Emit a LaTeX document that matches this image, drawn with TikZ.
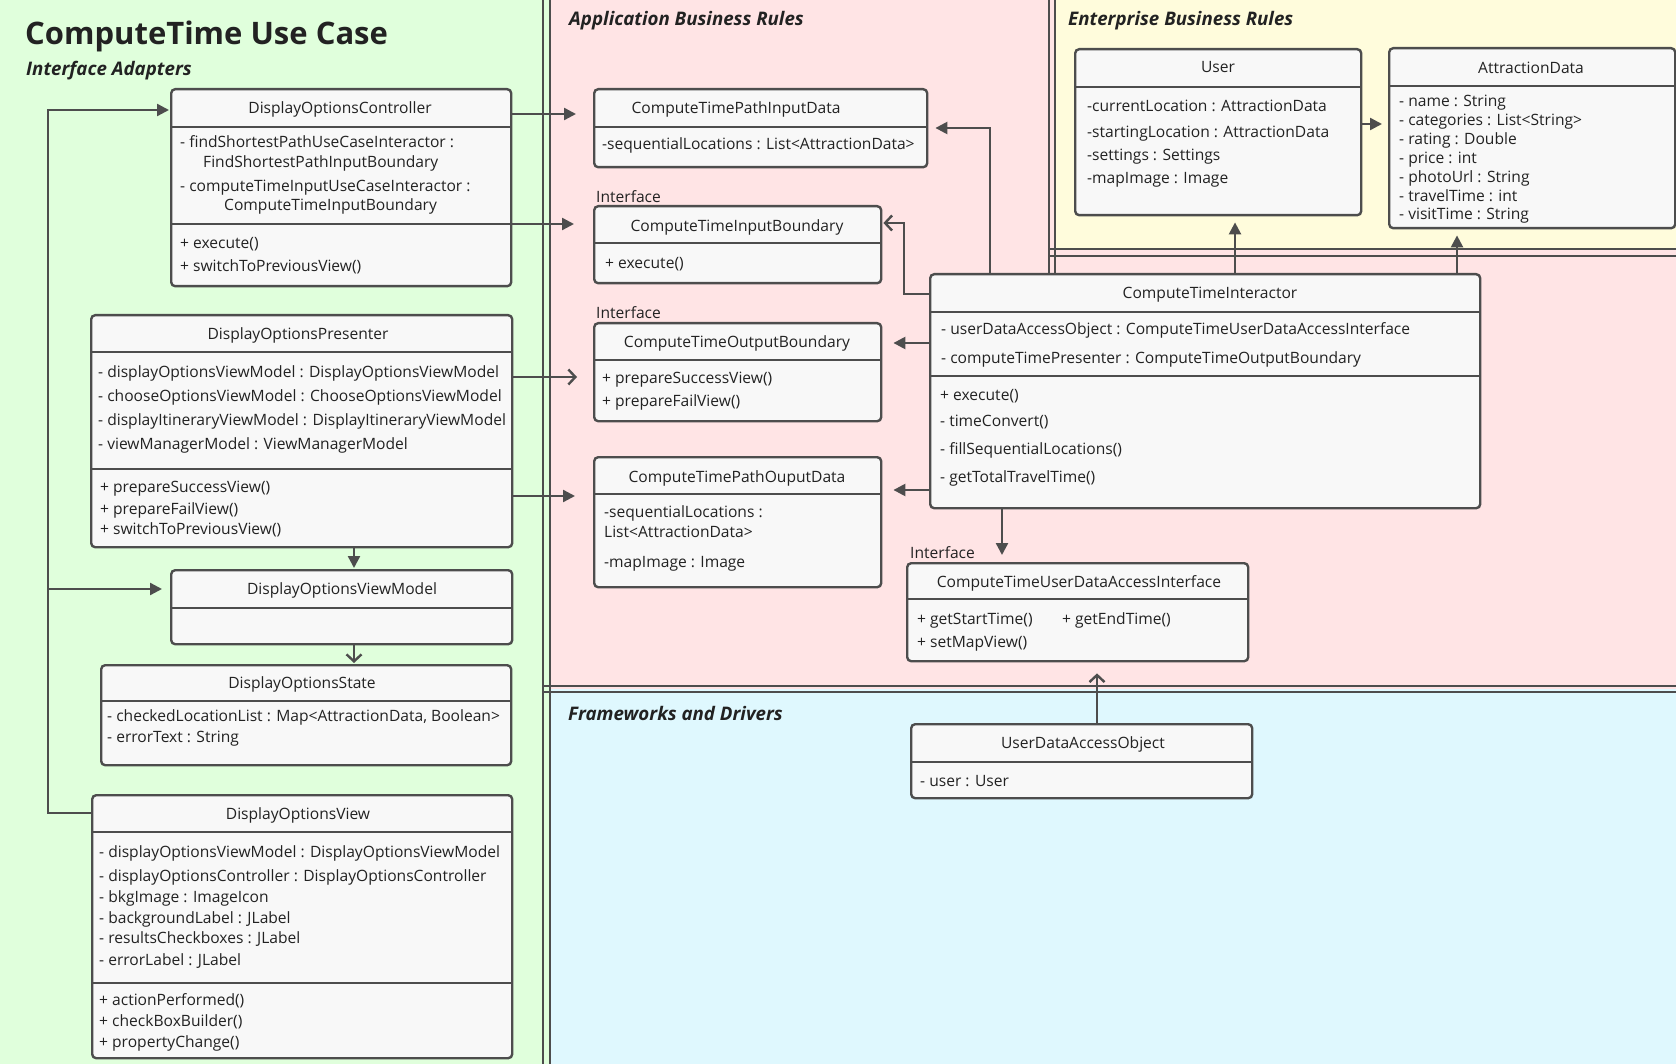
\documentclass[tikz,border=0pt]{standalone}
\usepackage{fontspec}
\setmainfont{Open Sans}
\usetikzlibrary{arrows.meta}
\definecolor{adapterC}{HTML}{E0FFDC}
\definecolor{appC}{HTML}{FFE4E5}
\definecolor{entC}{HTML}{FFFCDC}
\definecolor{fwC}{HTML}{DFF8FE}
\definecolor{boxC}{HTML}{F8F8F8}
\definecolor{lineC}{HTML}{4D4D4D}
\definecolor{txtC}{HTML}{222222}

% class box: name, left, top, right, bottom
\newcommand{\umlbox}[5]{%
  \pgfmathsetmacro{\bw}{#4-#2}\pgfmathsetmacro{\bh}{#5-#3}%
  \node[umlrect, minimum width=\bw pt, minimum height=\bh pt] (#1) at (#2,#3) {};}
% compartment divider inside a box at height #2
\newcommand{\compdiv}[2]{\draw[divl] (#1.west |- 0,#2) -- (#1.east |- 0,#2);}

\begin{document}
\begin{tikzpicture}[x=1pt,y=-1pt,
  umlrect/.style={draw=lineC, line width=2.4pt, fill=boxC, rounded corners=4pt,
    inner sep=0pt, anchor=north west},
  divl/.style={draw=lineC, line width=2.4pt},
  regline/.style={draw=lineC, line width=2.4pt},
  conn/.style={draw=lineC, line width=2.4pt},
  filltip/.style={-{Triangle[length=12pt,width=12pt]}},
  opentip/.style={-{Straight Barb[length=7pt,width=15pt]}},
  txt/.style={anchor=west, inner sep=0pt, text height=0.72em, text depth=0pt,
    yshift=-2pt, font=\fontsize{15.6}{18}\selectfont, text=txtC},
  ttl/.style={txt, anchor=center},
  section/.style={anchor=west, inner sep=0pt, text height=0.72em, text depth=0pt,
    yshift=-3pt, font=\fontsize{18.7}{19}\selectfont\bfseries\itshape, text=txtC}
]
\useasboundingbox (0,0) rectangle (1676,1064);

% ---------- layer backgrounds ----------
\fill[adapterC] (0,0) rectangle (550,1064);
\fill[appC] (550,0) rectangle (1676,689);
\fill[entC] (1055,0) rectangle (1676,249);
\fill[fwC] (550,689) rectangle (1676,1064);

\draw[regline] (543,-2) -- (543,1066);
\draw[regline] (550,-2) -- (550,1066);
\draw[regline] (543,686) -- (1678,686);
\draw[regline] (543,692) -- (1678,692);
\draw[regline] (1049,-2) -- (1049,300);
\draw[regline] (1055,-2) -- (1055,300);
\draw[regline] (1049,249) -- (1678,249);
\draw[regline] (1049,256) -- (1678,256);

% ---------- headings ----------
\node[anchor=west, inner sep=0pt, text height=0.72em, text depth=0pt,
  font=\fontsize{31}{31}\selectfont\bfseries, text=txtC] (title) at (25,41) {ComputeTime Use Case};
\node[section] (secIA) at (26,69) {Interface Adapters};
\node[section] (secAB) at (569,19) {Application Business Rules};
\node[section] (secEB) at (1068,19) {Enterprise Business Rules};
\node[section] (secFD) at (568,714) {Frameworks and Drivers};

% ---------- class boxes ----------
\umlbox{ctrl}{170}{88}{510}{285}
\umlbox{pres}{90}{314}{511}{546}
\umlbox{vm}{170}{569}{511}{643}
\umlbox{state}{100}{664}{510}{764}
\umlbox{view}{91}{794}{511}{1057}
\umlbox{pid}{593}{88}{926}{166}
\umlbox{ib}{593}{205}{880}{282}
\umlbox{ob}{593}{322}{880}{420}
\umlbox{pod}{593}{456}{880}{586}
\umlbox{inter}{929}{273}{1479}{507}
\umlbox{udai}{906}{562}{1247}{660}
\umlbox{udao}{910}{723}{1251}{797}
\umlbox{user}{1074}{48}{1360}{214}
\umlbox{ad}{1388}{47}{1674}{227}

\compdiv{ctrl}{127}\compdiv{ctrl}{224}
\compdiv{pres}{352}\compdiv{pres}{469}
\compdiv{vm}{608}
\compdiv{state}{701}
\compdiv{view}{832}\compdiv{view}{983}
\compdiv{pid}{127}
\compdiv{ib}{243}
\compdiv{ob}{360}
\compdiv{pod}{494}
\compdiv{inter}{312}\compdiv{inter}{376}
\compdiv{udai}{599}
\compdiv{udao}{762}
\compdiv{user}{87}
\compdiv{ad}{86}

% ---------- connectors ----------
\coordinate (bus) at (48,0);
\draw[conn, filltip, shorten >=1pt] (view.west |- 0,813) -| (bus |- 0,110) -- (ctrl.west |- 0,110);
\draw[conn, filltip, shorten >=8pt] (bus |- 0,589) -- (vm.west |- 0,589);
\draw[conn, filltip, shorten >=1pt] (pres.south -| 354,0) -- (vm.north -| 354,0);
\draw[conn, opentip, shorten >=1pt] (vm.south -| 354,0) -- (state.north -| 354,0);

\draw[conn, filltip, shorten >=17pt] (ctrl.east |- 0,114) -- (pid.west |- 0,114);
\draw[conn, filltip, shorten >=19pt] (ctrl.east |- 0,224) -- (ib.west |- 0,224);
\draw[conn, opentip, shorten >=16pt] (pres.east |- 0,377) -- (ob.west |- 0,377);
\draw[conn, filltip, shorten >=18pt] (pres.east |- 0,496) -- (pod.west |- 0,496);

\draw[conn, filltip, shorten >=7pt] (inter.north -| 990,0) |- (pid.east |- 0,128);
\draw[conn, opentip, shorten >=1pt] (inter.west |- 0,294) -| (904,250) |- (ib.east |- 0,223);
\draw[conn, filltip, shorten >=11pt] (inter.west |- 0,343) -- (ob.east |- 0,343);
\draw[conn, filltip, shorten >=11pt] (inter.west |- 0,490) -- (pod.east |- 0,490);
\draw[conn, filltip, shorten >=7pt] (inter.south -| 1002,0) -- (udai.north -| 1002,0);
\draw[conn, opentip, shorten >=11pt] (udao.north -| 1097,0) -- (udai.south -| 1097,0);
\draw[conn, filltip, shorten >=6pt] (user.east |- 0,124) -- (ad.west |- 0,124);
\draw[conn, filltip, shorten >=6pt] (inter.north -| 1235,0) -- (user.south -| 1235,0);
\draw[conn, filltip, shorten >=6pt] (inter.north -| 1457,0) -- (ad.south -| 1457,0);

% ---------- DisplayOptionsController ----------
\node[ttl] (ctrlT) at (340,108) {DisplayOptionsController};
\node[txt] (ctrlA1) at (180,142) {- findShortestPathUseCaseInteractor :};
\node[txt] (ctrlA1b) at (203,162) {FindShortestPathInputBoundary};
\node[txt] (ctrlA2) at (180,186) {- computeTimeInputUseCaseInteractor :};
\node[txt] (ctrlA2b) at (224,205) {ComputeTimeInputBoundary};
\node[txt] (ctrlM1) at (180,243) {+ execute()};
\node[txt] (ctrlM2) at (180,266) {+ switchToPreviousView()};

% ---------- DisplayOptionsPresenter ----------
\node[ttl] (presT) at (298,334) {DisplayOptionsPresenter};
\node[txt] (presA1) at (98,372) {- displayOptionsViewModel : DisplayOptionsViewModel};
\node[txt] (presA2) at (98,396) {- chooseOptionsViewModel : ChooseOptionsViewModel};
\node[txt] (presA3) at (98,420) {- displayItineraryViewModel : DisplayItineraryViewModel};
\node[txt] (presA4) at (98,444) {- viewManagerModel : ViewManagerModel};
\node[txt] (presM1) at (100,487) {+ prepareSuccessView()};
\node[txt] (presM2) at (100,509) {+ prepareFailView()};
\node[txt] (presM3) at (100,529) {+ switchToPreviousView()};

% ---------- DisplayOptionsViewModel ----------
\node[ttl] (vmT) at (342,589) {DisplayOptionsViewModel};

% ---------- DisplayOptionsState ----------
\node[ttl] (stateT) at (302,683) {DisplayOptionsState};
\node[txt] (stateA1) at (107,716) {- checkedLocationList : Map<AttractionData, Boolean>};
\node[txt] (stateA2) at (107,737) {- errorText : String};

% ---------- DisplayOptionsView ----------
\node[ttl] (viewT) at (298,814) {DisplayOptionsView};
\node[txt] (viewA1) at (99,852) {- displayOptionsViewModel : DisplayOptionsViewModel};
\node[txt] (viewA2) at (99,876) {- displayOptionsController : DisplayOptionsController};
\node[txt] (viewA3) at (99,897) {- bkgImage : ImageIcon};
\node[txt] (viewA4) at (99,918) {- backgroundLabel : JLabel};
\node[txt] (viewA5) at (99,938) {- resultsCheckboxes : JLabel};
\node[txt] (viewA6) at (99,960) {- errorLabel : JLabel};
\node[txt] (viewM1) at (99,1000) {+ actionPerformed()};
\node[txt] (viewM2) at (99,1021) {+ checkBoxBuilder()};
\node[txt] (viewM3) at (99,1042) {+ propertyChange()};

% ---------- ComputeTimePathInputData ----------
\node[ttl] (pidT) at (736,108) {ComputeTimePathInputData};
\node[txt] (pidA1) at (602,144) {-sequentialLocations : List<AttractionData>};

% ---------- ComputeTimeInputBoundary ----------
\node[txt] (ibS) at (596,197) {Interface};
\node[ttl] (ibT) at (737,226) {ComputeTimeInputBoundary};
\node[txt] (ibM1) at (605,263) {+ execute()};

% ---------- ComputeTimeOutputBoundary ----------
\node[txt] (obS) at (596,313) {Interface};
\node[ttl] (obT) at (737,342) {ComputeTimeOutputBoundary};
\node[txt] (obM1) at (602,378) {+ prepareSuccessView()};
\node[txt] (obM2) at (602,401) {+ prepareFailView()};

% ---------- ComputeTimePathOuputData ----------
\node[ttl] (podT) at (737,477) {ComputeTimePathOuputData};
\node[txt] (podA1) at (604,512) {-sequentialLocations :};
\node[txt] (podA1b) at (604,532) {List<AttractionData>};
\node[txt] (podA2) at (604,562) {-mapImage : Image};

% ---------- ComputeTimeInteractor ----------
\node[ttl] (interT) at (1210,293) {ComputeTimeInteractor};
\node[txt] (interA1) at (941,329) {- userDataAccessObject : ComputeTimeUserDataAccessInterface};
\node[txt] (interA2) at (941,358) {- computeTimePresenter : ComputeTimeOutputBoundary};
\node[txt] (interM1) at (940,395) {+ execute()};
\node[txt] (interM2) at (940,421) {- timeConvert()};
\node[txt] (interM3) at (940,449) {- fillSequentialLocations()};
\node[txt] (interM4) at (940,477) {- getTotalTravelTime()};

% ---------- ComputeTimeUserDataAccessInterface ----------
\node[txt] (udaiS) at (910,553) {Interface};
\node[ttl] (udaiT) at (1079,582) {ComputeTimeUserDataAccessInterface};
\node[txt] (udaiM1) at (917,619) {+ getStartTime()};
\node[txt] (udaiM2) at (1062,619) {+ getEndTime()};
\node[txt] (udaiM3) at (917,642) {+ setMapView()};

% ---------- UserDataAccessObject ----------
\node[ttl] (udaoT) at (1083,743) {UserDataAccessObject};
\node[txt] (udaoA1) at (920,781) {- user : User};

% ---------- User ----------
\node[ttl] (userT) at (1218,67) {User};
\node[txt] (userA1) at (1087,106) {-currentLocation : AttractionData};
\node[txt] (userA2) at (1087,132) {-startingLocation : AttractionData};
\node[txt] (userA3) at (1087,155) {-settings : Settings};
\node[txt] (userA4) at (1087,178) {-mapImage : Image};

% ---------- AttractionData ----------
\node[ttl] (adT) at (1531,68) {AttractionData};
\node[txt] (adA1) at (1399,101) {- name : String};
\node[txt] (adA2) at (1399,120) {- categories : List<String>};
\node[txt] (adA3) at (1399,139) {- rating : Double};
\node[txt] (adA4) at (1399,158) {- price : int};
\node[txt] (adA5) at (1399,177) {- photoUrl : String};
\node[txt] (adA6) at (1399,196) {- travelTime : int};
\node[txt] (adA7) at (1399,214) {- visitTime : String};
\end{tikzpicture}
\end{document}
